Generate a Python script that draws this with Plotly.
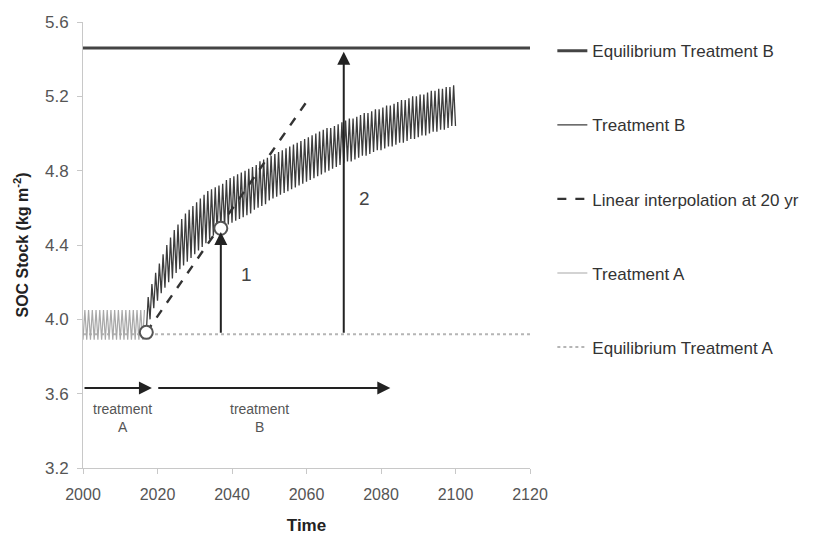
import plotly.graph_objects as go

# ---------------- data ----------------
x_range = [2000, 2120]
y_range = [3.2, 5.6]

eq_a = 3.92
eq_b = 5.46

# Treatment A: annual oscillation 2000-2017
a_years = [2000, 2001, 2002, 2003, 2004, 2005, 2006, 2007, 2008,
           2009, 2010, 2011, 2012, 2013, 2014, 2015, 2016]
a_low = [3.89, 3.89, 3.89, 3.89, 3.89, 3.89, 3.89, 3.89, 3.89,
         3.89, 3.89, 3.89, 3.89, 3.89, 3.89, 3.89, 3.89]
a_high = [4.05, 4.05, 4.05, 4.05, 4.05, 4.05, 4.05, 4.05, 4.05,
          4.05, 4.05, 4.05, 4.05, 4.05, 4.05, 4.05, 4.05]

# Treatment B: annual minima (2017-2100) and maxima (2017-2099)
b_years_low = list(range(2017, 2101))
b_low = [3.93, 4.00, 4.06, 4.10, 4.14, 4.17, 4.20, 4.22, 4.25, 4.27,
         4.29, 4.31, 4.33, 4.35, 4.37, 4.39, 4.41, 4.43, 4.45, 4.47,
         4.49, 4.50, 4.51, 4.52, 4.53, 4.54, 4.55, 4.56, 4.57, 4.59,
         4.60, 4.61, 4.62, 4.64, 4.65, 4.66, 4.67, 4.68, 4.69, 4.70,
         4.71, 4.72, 4.73, 4.74, 4.75, 4.76, 4.77, 4.78, 4.79, 4.80,
         4.81, 4.82, 4.83, 4.84, 4.85, 4.85, 4.86, 4.87, 4.88, 4.88,
         4.89, 4.90, 4.91, 4.91, 4.92, 4.93, 4.93, 4.94, 4.95, 4.95,
         4.96, 4.97, 4.97, 4.98, 4.99, 4.99, 5.00, 5.01, 5.01, 5.02,
         5.02, 5.03, 5.04, 5.04]
b_high = [4.12, 4.19, 4.25, 4.30, 4.35, 4.40, 4.44, 4.48, 4.51, 4.54,
          4.57, 4.59, 4.61, 4.63, 4.65, 4.67, 4.69, 4.70, 4.71, 4.72,
          4.73, 4.75, 4.76, 4.77, 4.78, 4.79, 4.80, 4.81, 4.82, 4.83,
          4.85, 4.86, 4.87, 4.88, 4.89, 4.90, 4.91, 4.92, 4.93, 4.94,
          4.95, 4.96, 4.97, 4.98, 4.99, 5.00, 5.01, 5.02, 5.03, 5.03,
          5.04, 5.05, 5.06, 5.07, 5.08, 5.08, 5.09, 5.10, 5.11, 5.11,
          5.12, 5.13, 5.13, 5.14, 5.15, 5.15, 5.16, 5.17, 5.18, 5.18,
          5.19, 5.20, 5.20, 5.21, 5.21, 5.22, 5.23, 5.23, 5.24, 5.24,
          5.25, 5.25, 5.26]

# Linear interpolation at 20 yr
lin_x = [2017, 2060]
lin_y = [3.93, 5.17]

# circles
circ_x = [2017, 2037]
circ_y = [3.93, 4.49]

# arrows: (x_tail, y_tail, x_head, y_head)
arrow_a = (2000, 3.63, 2018.5, 3.63)
arrow_b = (2019.8, 3.63, 2082.5, 3.63)
arrow_1 = (2037, 3.92, 2037, 4.47)
arrow_2 = (2070, 3.92, 2070, 5.44)

legend_names = ["Equilibrium Treatment B", "Treatment B",
                "Linear interpolation at 20 yr", "Treatment A",
                "Equilibrium Treatment A"]

# ---------------- build zig-zag sequences ----------------
ax_, ay_ = [], []
for yr, lo, hi in zip(a_years, a_low, a_high):
    ax_ += [yr, yr + 0.5]
    ay_ += [lo, hi]

bx, by = [], []
for i, yr in enumerate(b_years_low):
    bx.append(yr)
    by.append(b_low[i])
    if i < len(b_high):
        bx.append(yr + 0.5)
        by.append(b_high[i])

FONT = "Liberation Sans, Arial, sans-serif"

fig = go.Figure()

fig.add_trace(go.Scatter(x=x_range, y=[eq_a, eq_a], mode="lines",
                         line=dict(color="#b5b5b5", width=2, dash="dot"),
                         name=legend_names[4], legendgroup="g5", legendrank=5))
fig.add_trace(go.Scatter(x=ax_, y=ay_, mode="lines",
                         line=dict(color="#a8a8a8", width=1.2),
                         name=legend_names[3], legendgroup="g4", legendrank=4))
fig.add_trace(go.Scatter(x=bx, y=by, mode="lines",
                         line=dict(color="#3c3c3c", width=1.3),
                         name=legend_names[1], legendgroup="g2", legendrank=2))
fig.add_trace(go.Scatter(x=lin_x, y=lin_y, mode="lines",
                         line=dict(color="#333333", width=2.4, dash="dash"),
                         name=legend_names[2], legendgroup="g3", legendrank=3))
fig.add_trace(go.Scatter(x=x_range, y=[eq_b, eq_b], mode="lines",
                         line=dict(color="#444444", width=3),
                         name=legend_names[0], legendgroup="g1", legendrank=1))
fig.add_trace(go.Scatter(x=circ_x, y=circ_y, mode="markers",
                         marker=dict(size=13, color="white",
                                     line=dict(color="#555555", width=2)),
                         showlegend=False))

for (x0, y0, x1, y1) in [arrow_a, arrow_b, arrow_1, arrow_2]:
    fig.add_annotation(x=x1, y=y1, ax=x0, ay=y0, xref="x", yref="y",
                       axref="x", ayref="y", text="", showarrow=True,
                       arrowhead=2, arrowsize=1.3, arrowwidth=2,
                       arrowcolor="#222222", standoff=0, startstandoff=0)

fig.add_annotation(x=2044, y=4.24, text="1", showarrow=False,
                   font=dict(family=FONT, size=19, color="#444"))
fig.add_annotation(x=2075.7, y=4.65, text="2", showarrow=False,
                   font=dict(family=FONT, size=19, color="#444"))
fig.add_annotation(x=2010.5, y=3.47, text="treatment<br>A", showarrow=False,
                   font=dict(family=FONT, size=14, color="#555"))
fig.add_annotation(x=2047.5, y=3.47, text="treatment<br>B", showarrow=False,
                   font=dict(family=FONT, size=14, color="#555"))

fig.update_layout(
    width=814, height=536,
    margin=dict(l=75, r=292, t=14, b=76),
    paper_bgcolor="white", plot_bgcolor="white",
    font=dict(family=FONT, color="#333"),
    showlegend=True,
    legend=dict(x=1.05, y=0.975, xanchor="left", yanchor="top",
                traceorder="grouped", tracegroupgap=49,
                font=dict(family=FONT, size=17, color="#333"),
                bgcolor="rgba(0,0,0,0)"),
    xaxis=dict(range=x_range, dtick=20, tick0=2000, showgrid=False,
               zeroline=False, showline=True, linecolor="#c8c8c8",
               linewidth=1, ticks="outside", ticklen=5, tickcolor="#c8c8c8",
               ticklabelstandoff=7, automargin=False,
               tickfont=dict(family=FONT, size=16, color="#555"),
               title=dict(text="<b>Time</b>", standoff=16,
                          font=dict(family=FONT, size=17, color="#222"))),
    yaxis=dict(range=y_range, dtick=0.4, tick0=3.2, tickformat=".1f",
               showgrid=False, zeroline=False, showline=True,
               linecolor="#c8c8c8", linewidth=1, ticks="outside",
               ticklen=5, tickcolor="#c8c8c8", ticklabelstandoff=5,
               automargin=False,
               tickfont=dict(family=FONT, size=17, color="#555"),
               title=dict(text="<b>SOC Stock (kg m<sup>-2</sup>)</b>",
                          standoff=12,
                          font=dict(family=FONT, size=16, color="#222"))),
)

fig.write_html("out.html")
